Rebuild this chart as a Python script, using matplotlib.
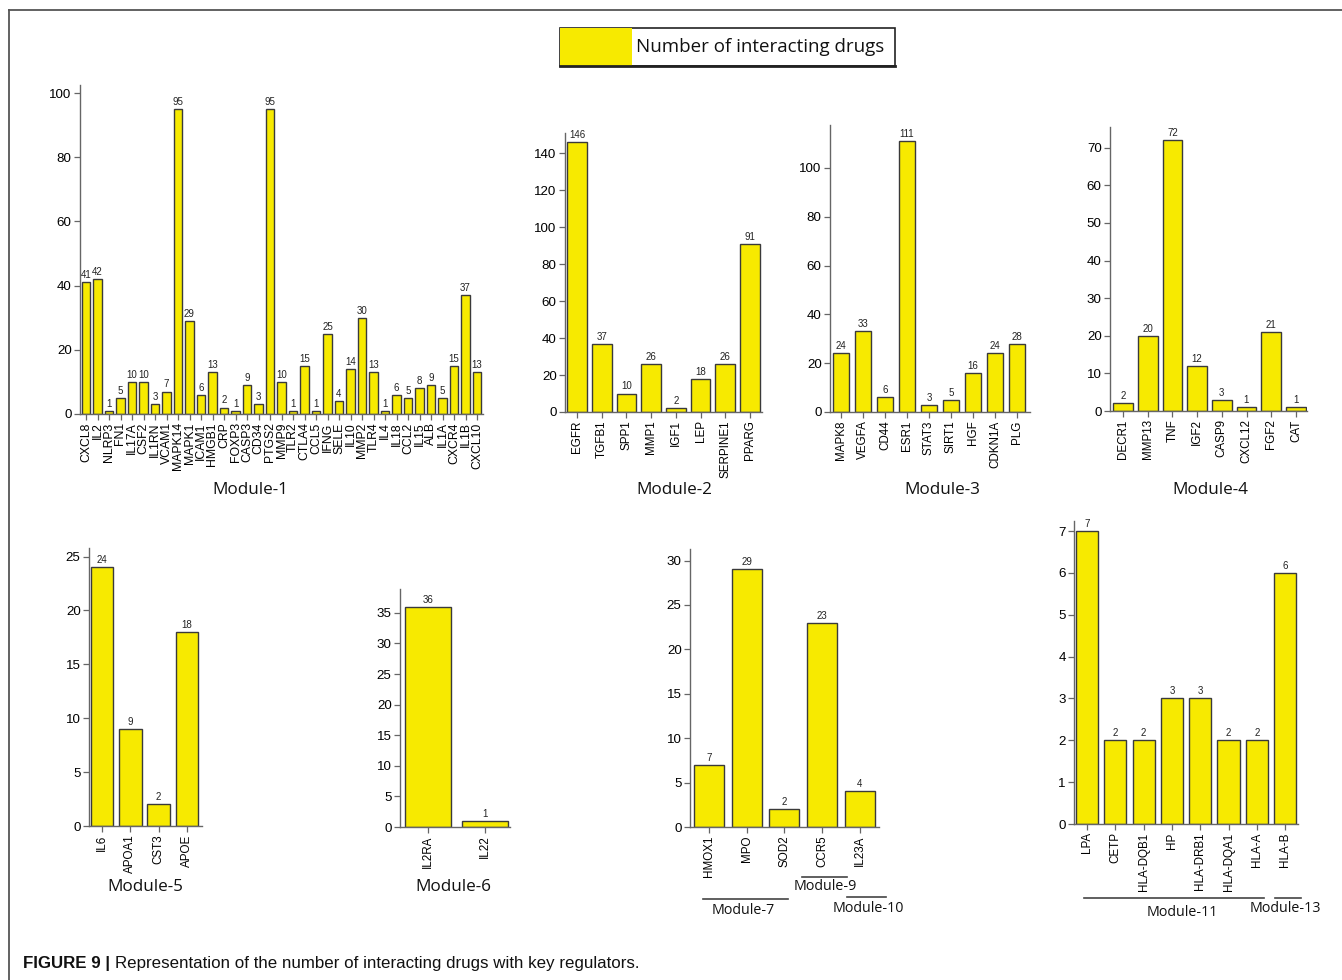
import matplotlib
matplotlib.use("Agg")
import matplotlib.pyplot as plt
from matplotlib.lines import Line2D
from matplotlib.patches import Rectangle
from matplotlib import font_manager

# data
m1_genes = ["CXCL8", "IL2", "NLRP3", "FN1", "IL17A", "CSF2", "IL1RN", "VCAM1", "MAPK14", "MAPK1",
            "ICAM1", "HMGB1", "CRP", "FOXP3", "CASP3", "CD34", "PTGS2", "MMP9", "TLR2", "CTLA4",
            "CCL5", "IFNG", "SELE", "IL10", "MMP2", "TLR4", "IL4", "IL18", "CCL2", "IL15",
            "ALB", "IL1A", "CXCR4", "IL1B", "CXCL10"]
m1_vals = [41, 42, 1, 5, 10, 10, 3, 7, 95, 29,
           6, 13, 2, 1, 9, 3, 95, 10, 1, 15,
           1, 25, 4, 14, 30, 13, 1, 6, 5, 8,
           9, 5, 15, 37, 13]
m2_genes = ["EGFR", "TGFB1", "SPP1", "MMP1", "IGF1", "LEP", "SERPINE1", "PPARG"]
m2_vals = [146, 37, 10, 26, 2, 18, 26, 91]
m3_genes = ["MAPK8", "VEGFA", "CD44", "ESR1", "STAT3", "SIRT1", "HGF", "CDKN1A", "PLG"]
m3_vals = [24, 33, 6, 111, 3, 5, 16, 24, 28]
m4_genes = ["DECR1", "MMP13", "TNF", "IGF2", "CASP9", "CXCL12", "FGF2", "CAT"]
m4_vals = [2, 20, 72, 12, 3, 1, 21, 1]
m5_genes = ["IL6", "APOA1", "CST3", "APOE"]
m5_vals = [24, 9, 2, 18]
m6_genes = ["IL2RA", "IL22"]
m6_vals = [36, 1]
m7_genes = ["HMOX1", "MPO", "SOD2", "CCR5", "IL23A"]
m7_vals = [7, 29, 2, 23, 4]
m11_genes = ["LPA", "CETP", "HLA-DQB1", "HP", "HLA-DRB1", "HLA-DQA1", "HLA-A", "HLA-B"]
m11_vals = [7, 2, 2, 3, 3, 2, 2, 6]

W, H = 1342, 980
YELLOW = "#F7EA00"
EDGE = "#3a3a3a"
AXC = "#666666"

plt.rcParams['font.family'] = ['Liberation Sans', 'DejaVu Sans']
names = {f.name for f in font_manager.fontManager.ttflist}
CAP_FONT = 'Liberation Sans Narrow' if 'Liberation Sans Narrow' in names else 'Liberation Sans'
LAB_FONT = 'Open Sans'

fig = plt.figure(figsize=(W / 100, H / 100), dpi=100)


def px(x, y):
    return x / W, 1 - y / H


def module(genes, vals, left, right, top, bottom, c0, step, ymax, yticks,
           width=0.8, lab_fs=8.4, val_fs=7, tick_fs=9.6):
    ax = fig.add_axes([left / W, 1 - bottom / H, (right - left) / W, (bottom - top) / H])
    n = len(genes)
    clast = c0 + (n - 1) * step
    xs = list(range(n))
    ax.bar(xs, vals, width=width, color=YELLOW, edgecolor=EDGE, linewidth=1.0, zorder=2)
    for x, v in zip(xs, vals):
        ax.annotate(str(v), (x, v), xytext=(0, 1.5), textcoords="offset points",
                    ha="center", va="bottom", fontsize=val_fs, color="#222")
    ax.set_xlim(-(c0 - left) / step, (n - 1) + (right - clast) / step)
    ax.set_ylim(0, ymax)
    ax.set_xticks(xs)
    ax.set_xticklabels(genes, rotation=90, fontsize=lab_fs)
    ax.set_yticks(yticks)
    ax.tick_params(axis="y", labelsize=tick_fs, length=4, width=0.9, color=AXC, pad=2)
    ax.tick_params(axis="x", length=4, width=0.9, color=AXC, pad=2)
    for s in ("top", "right"):
        ax.spines[s].set_visible(False)
    for s in ("left", "bottom"):
        ax.spines[s].set_color(AXC)
        ax.spines[s].set_linewidth(1.0)
    ax.patch.set_alpha(0)
    return ax


module(m1_genes, m1_vals, 80, 483, 85, 414, 86, 391 / 34, 102.5, range(0, 101, 20),
       width=0.7, lab_fs=8.8)
module(m2_genes, m2_vals, 565, 762, 133, 412, 577, 24.7, 151, range(0, 141, 20))
module(m3_genes, m3_vals, 830, 1030, 125, 412, 841, 22, 117.6, range(0, 101, 20), width=0.77)
module(m4_genes, m4_vals, 1110, 1307, 127, 411, 1123, 24.7, 75.5, range(0, 71, 10))
module(m5_genes, m5_vals, 89, 202, 548, 826, 102, 28.3, 25.8, range(0, 26, 5))
module(m6_genes, m6_vals, 400, 510, 589, 827, 428, 57, 38.9, range(0, 36, 5), width=0.79)
module(m7_genes, m7_vals, 690, 879, 549, 827, 709, 37.7, 31.3, range(0, 31, 5))
module(m11_genes, m11_vals, 1074, 1298, 521, 824, 1087, 28.3, 7.24, range(0, 8), width=0.78)

# module names
big = ("Module-1", "Module-2", "Module-3", "Module-4", "Module-5", "Module-6")
for name, x, y in [("Module-1", 250, 490), ("Module-2", 674, 490), ("Module-3", 942, 490),
                   ("Module-4", 1210, 490), ("Module-5", 145, 887), ("Module-6", 453, 887),
                   ("Module-7", 743, 910), ("Module-9", 825, 886), ("Module-10", 868, 908),
                   ("Module-11", 1182, 912), ("Module-13", 1285, 908)]:
    fs = 12.3 if name in big else 10.3
    fig.text(*px(x, y), name, ha="center", va="center", fontsize=fs, family=LAB_FONT, color="#111")

# group lines under the bottom-right charts
for x0, x1, y in [(703, 788, 899), (802, 847, 877), (847, 886, 897), (1084, 1264, 898), (1275, 1301, 898)]:
    a, b = px(x0, y)
    c, d = px(x1, y)
    fig.add_artist(Line2D([a, c], [b, d], color="#444", lw=1.2))

# legend
lx0, ly0 = px(560, 66)
lx1, ly1 = px(895, 28)
fig.add_artist(Rectangle((lx0, ly0), lx1 - lx0, ly1 - ly0, facecolor="white", edgecolor="#222", lw=1.2))
px0, _ = px(632, 0)
fig.add_artist(Rectangle((lx0, ly0), px0 - lx0, ly1 - ly0, facecolor=YELLOW, edgecolor="none"))
fig.add_artist(Line2D([lx0, lx1], [ly0, ly0], color="#222", lw=2.0))
fig.text(*px(636, 47), "Number of interacting drugs", ha="left", va="center", fontsize=13.5,
         family=LAB_FONT, color="#111")

# outer frame
fig.add_artist(Line2D([9 / W, 9 / W], [0, 1 - 10 / H], color="#555", lw=1.3))
fig.add_artist(Line2D([9 / W, 1], [1 - 10 / H, 1 - 10 / H], color="#555", lw=1.3))

# caption
t = fig.text(*px(23, 963), "FIGURE 9 |", ha="left", va="center", fontsize=12.2,
             fontweight="bold", family=CAP_FONT, color="#111")
fig.canvas.draw()
bb = t.get_window_extent()
fig.text(bb.x1 / W + 5 / W, 1 - 963 / H, "Representation of the number of interacting drugs with key regulators.",
         ha="left", va="center", fontsize=12.2, family=CAP_FONT, color="#111")

fig.savefig("out.png", dpi=100)
